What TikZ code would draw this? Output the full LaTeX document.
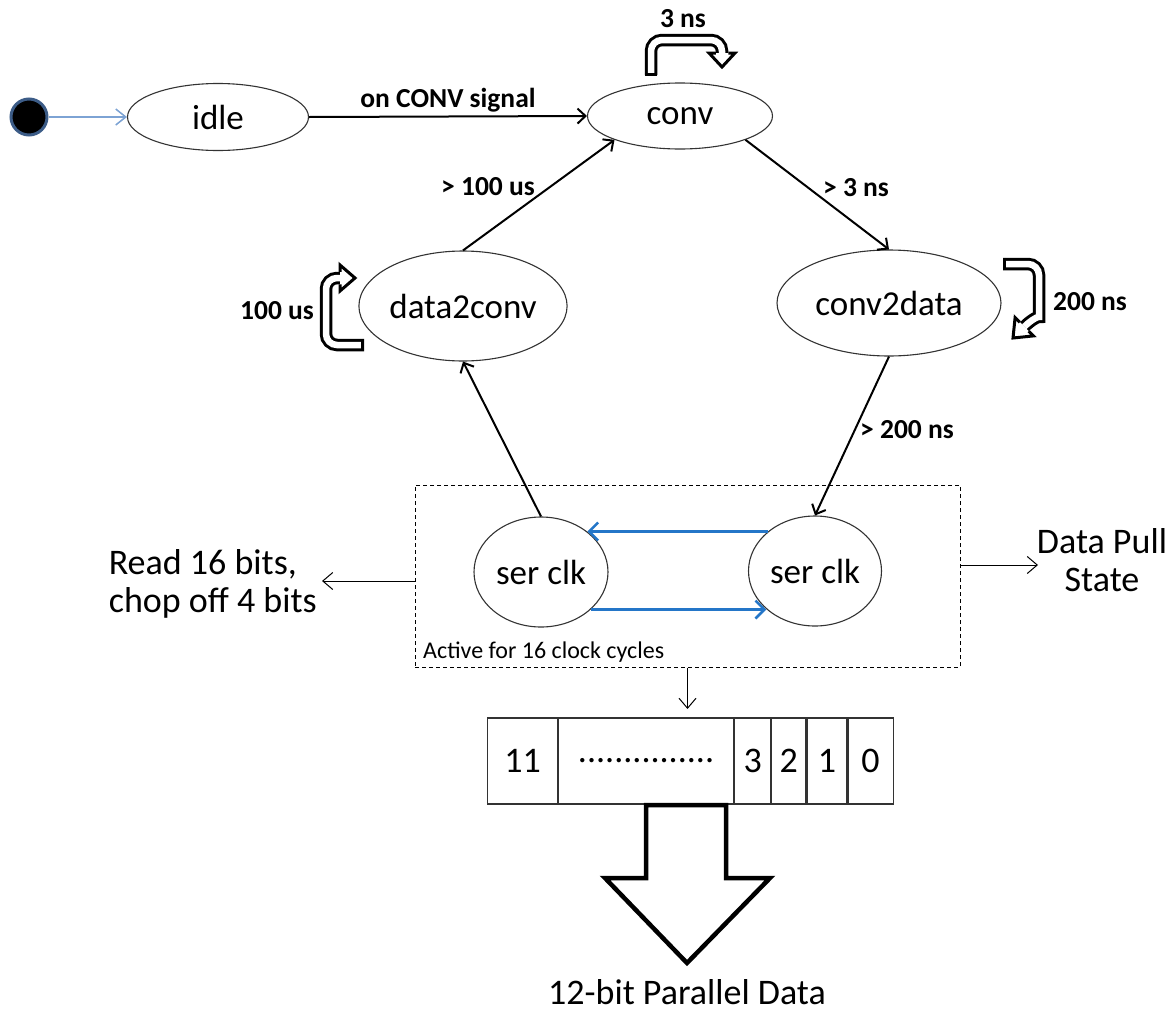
\documentclass[tikz,border=0pt]{standalone}
\usepackage{fontspec}
\setmainfont{Carlito}
\usetikzlibrary{arrows.meta,shapes.geometric}
\definecolor{ctlblue}{RGB}{36,118,200}
\definecolor{startblue}{RGB}{125,163,212}
\definecolor{dotrim}{RGB}{60,92,135}
\begin{document}
\begin{tikzpicture}[x=1pt,y=-1pt,
  state/.style={ellipse, draw=black!80, line width=1.1pt, inner sep=0pt,
    font=\fontsize{35}{42}\selectfont},
  edge/.style={draw=black, line width=2pt, -{Straight Barb[length=8pt,width=15pt]}},
  sidearrow/.style={draw=black, line width=1pt, -{Straight Barb[length=10pt,width=17pt]}},
  clkarrow/.style={draw=ctlblue, line width=2.5pt, -{Straight Barb[length=9pt,width=18pt]}},
  lbl/.style={font=\bfseries\fontsize{27.5}{33}\selectfont, inner sep=0pt},
  bigtxt/.style={font=\fontsize{36}{42}\selectfont, inner sep=2pt},
  band/.style={draw=black, line width=3pt, double=white, double distance=6.5pt},
  headline/.style={draw=black, line width=3pt, line join=miter},
  cell/.style={draw=black!80, line width=1.1pt, minimum height=86pt, inner sep=0pt,
    anchor=west, font=\fontsize{36}{42}\selectfont}]
\useasboundingbox (0,0) rectangle (1172,1012);

% initial pseudo-state
\node[circle, fill=black, draw=dotrim, line width=3pt, minimum size=36pt, inner sep=0pt] (start) at (29,117) {};

% states
\node[state, minimum width=181pt, minimum height=67pt] (idle) at (218,117) {idle};
\node[state, minimum width=185pt, minimum height=66pt] (conv) at (680,116) {conv};
\node[state, minimum width=208pt, minimum height=110pt] (d2c) at (463,306) {data2conv};
\node[state, minimum width=224pt, minimum height=106pt] (c2d) at (889,303) {conv2data};

% serial clock group
\node[draw=black, line width=1pt, dash pattern=on 4pt off 3pt, minimum width=545pt,
  minimum height=182pt, inner sep=0pt] (grp) at (687.5,576) {};
\node[anchor=base west, font=\fontsize{24}{28}\selectfont, inner sep=0pt] (active) at (423,658) {Active for 16 clock cycles};
\node[state, minimum width=134pt, minimum height=110pt] (sl) at (541,572) {ser clk};
\node[state, minimum width=133pt, minimum height=110pt] (sr) at (815,571) {ser clk};

% transitions
\draw[draw=startblue, line width=1.5pt, -{Straight Barb[length=10pt,width=16pt]}] (start) -- (idle.west);
\draw[edge] (idle.east) -- (conv.west);
\node[lbl] (lcs) at (448,100) {on CONV signal};
\draw[edge] (conv.-20) -- (c2d.north);
\node[lbl] (l3) at (856,188) {> 3 ns};
\draw[edge] (c2d.south) -- (sr.north);
\node[lbl] (l200) at (907,430) {> 200 ns};
\draw[edge] (sl.north) -- (d2c.south);
\draw[edge] (d2c.north) -- (conv.200);
\node[lbl] (l100) at (488,187) {> 100 us};

% clock toggling between the two serial states
\draw[clkarrow] (sr.140) -- (sr.140 -| sl.41);
\draw[clkarrow] (sl.-37) -- (sl.-37 -| sr.218);

% self-loop block arrows
% conv: 3 ns
\draw[band, rounded corners=11pt] (651,75) -- (651,40) -- (722,40) -- (722,53);
\draw[line width=3pt] (644.75,74.5) -- (657.25,74.5);
\fill[white] (709,53) -- (735,53) -- (722,67) -- cycle;
\draw[headline] (715.75,53) -- (709,53) -- (722,67) -- (735,53) -- (728.25,53);
\node[lbl] (l3s) at (683,19) {3 ns};
% data2conv: 100 us
\draw[band, rounded corners=11pt] (364,345) -- (326,345) -- (326,278) -- (340,278);
\draw[line width=3pt] (362.5,338.75) -- (362.5,351.25);
\fill[white] (340,265) -- (340,291) -- (355,278) -- cycle;
\draw[headline] (340,271.75) -- (340,265) -- (355,278) -- (340,291) -- (340,284.25);
\node[lbl] (l100s) at (277,311) {100 us};
% conv2data: 200 ns
\draw[band, rounded corners=11pt] (1003,264) -- (1039,264) -- (1039,306) to[out=-90,in=45] (1024.3,326.7);
\draw[line width=3pt] (1004.5,257.75) -- (1004.5,270.25);
\fill[white] (1033.5,335.9) -- (1013,338) -- (1015.1,317.5) -- cycle;
\draw[headline] (1028.7,331.1) -- (1033.5,335.9) -- (1013,338) -- (1015.1,317.5) -- (1019.9,322.3);
\node[lbl] (l200s) at (1090,302) {200 ns};

% side notes
\node[bigtxt, align=left, anchor=east] (readtxt) at (319,584) {Read 16 bits,\\[-4pt]chop off 4 bits};
\draw[sidearrow] (grp.west |- 0,581) -- (322,581);
\node[bigtxt, align=center] (pulltxt) at (1102,560) {Data Pull\\[-4pt]State};
\draw[sidearrow] (grp.east |- 0,565) -- (1038,565);

% 12-bit output register
\node[cell, minimum width=70pt] (b11) at (487,761) {11};
\node[cell, minimum width=175pt] (bdots) at (b11.east) {...............};
\node[cell, minimum width=36pt] (b3) at (bdots.east) {3};
\node[cell, minimum width=34pt] (b2) at (b3.east) {2};
\node[cell, minimum width=40pt] (b1) at (b2.east) {1};
\node[cell, minimum width=45pt] (b0) at (b1.east) {0};
\draw[sidearrow] (grp.south) -- (grp.south |- 0,709);

% parallel output arrow
\draw[draw=black, fill=white, line width=4.5pt, line join=miter]
  (646,805) -- (726,805) -- (726,878) -- (770,878) -- (687,963) -- (605,878) -- (646,878) -- cycle;
\node[font=\fontsize{36}{42}\selectfont, inner sep=0pt, anchor=base] (ptxt) at (687,1004) {12-bit Parallel Data};
\end{tikzpicture}
\end{document}
